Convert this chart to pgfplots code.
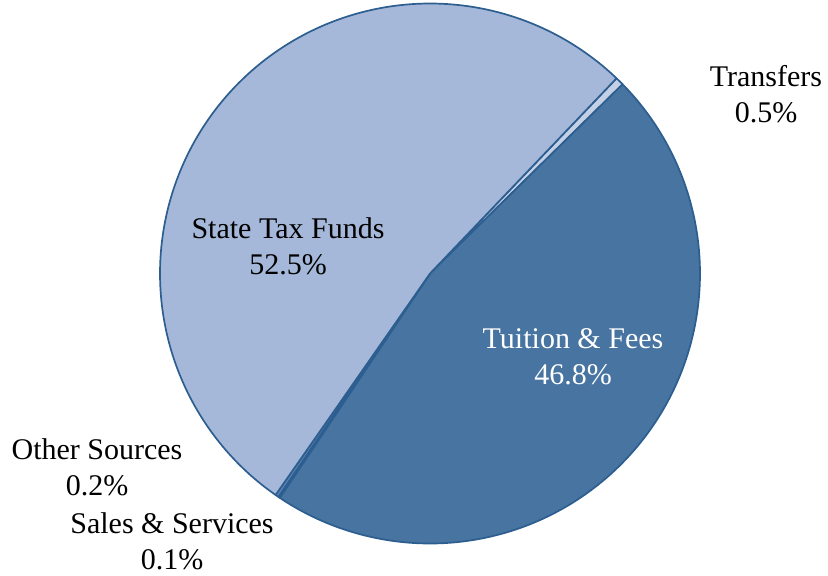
\documentclass[border=0pt]{standalone}
\usepackage{pgfplots}
\usepackage{pgfplotstable}
\usepackage{fontspec}
\setmainfont{Liberation Serif}
\pgfplotsset{compat=1.18}

\definecolor{edgeblue}{HTML}{2D5E90}
\definecolor{stateblue}{HTML}{A5B8D9}
\definecolor{tuitionblue}{HTML}{4774A1}
\definecolor{transferblue}{HTML}{C3D0E6}
\definecolor{salesblue}{HTML}{3A6898}
\definecolor{otherblue}{HTML}{5F83B4}

% Revenue sources, in percent, in clockwise order
\pgfplotstableread{
label value
Transfers 0.5
Tuition 46.8
Sales 0.1
Other 0.2
State 52.5
}\sources

\begin{document}
\begin{tikzpicture}
\begin{axis}[
  width=414pt, height=287.5pt, scale only axis,
  xmin=0, xmax=828, ymin=0, ymax=575,
  hide axis, clip=false,
  slice0/.style={fill=transferblue},
  slice1/.style={fill=tuitionblue},
  slice2/.style={fill=salesblue},
  slice3/.style={fill=otherblue},
  slice4/.style={fill=stateblue},
]
% keep the full canvas as the picture's extent
\path (rel axis cs:0,0) rectangle (rel axis cs:1,1);
\def\cx{430}\def\cy{301.5}\def\rad{270}
\def\ang{46.3}
\pgfplotsforeachungrouped \i in {0,...,4}{%
  \pgfplotstablegetelem{\i}{value}\of\sources
  \pgfmathsetmacro\angend{\ang - \pgfplotsretval*(360/100.1)}%
  \edef\cmd{\noexpand\addplot[slice\i, draw=edgeblue, line width=0.85pt,
      line join=round, domain=\angend:\ang, samples=120, smooth]
      ({\cx+\rad*cos(x)},{\cy+\rad*sin(x)}) -- (axis cs:\cx,\cy) -- cycle;}%
  \cmd
  \global\let\ang\angend
}

\tikzset{lbl/.style={align=center, font=\fontsize{15}{18}\selectfont, inner sep=0pt}}
\node[lbl] at (axis cs:288,328.5) {State Tax Funds\\52.5\%};
\node[lbl, text=white] at (axis cs:573,218.5) {Tuition \& Fees\\46.8\%};
\node[lbl] at (axis cs:766,480.5) {Transfers\\0.5\%};
\node[lbl] at (axis cs:97,108) {Other Sources\\0.2\%};
\node[lbl] at (axis cs:172,34) {Sales \& Services\\0.1\%};
\end{axis}
\end{tikzpicture}
\end{document}
